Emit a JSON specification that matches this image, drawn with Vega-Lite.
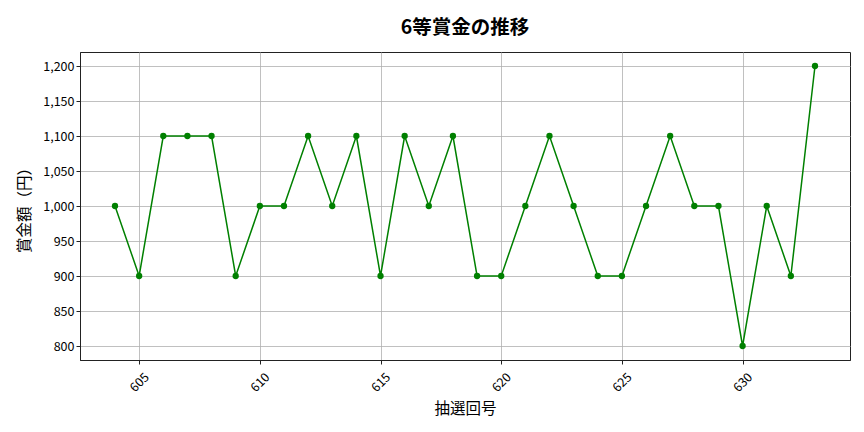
{
  "$schema": "https://vega.github.io/schema/vega-lite/v6.json",
  "autosize": "none",
  "padding": {"left": 80, "top": 52, "right": 14, "bottom": 72},
  "width": 770,
  "height": 308,
  "config": {
    "font": "Noto Sans CJK JP",
    "view": {"stroke": "#222222", "strokeWidth": 1},
    "axis": {
      "gridColor": "#b0b0b0",
      "gridWidth": 0.8,
      "domainColor": "#222222",
      "tickColor": "#222222",
      "tickSize": 4,
      "labelFontSize": 12.5,
      "labelColor": "#000000",
      "titleFontSize": 15.5,
      "titleFontWeight": "normal",
      "titleColor": "#000000"
    }
  },
  "title": {"text": "6等賞金の推移", "fontSize": 19.5, "fontWeight": "bold", "offset": 14, "color": "#000000"},
  "data": {
    "values": [
      {"round": 604, "prize": 1000},
      {"round": 605, "prize": 900},
      {"round": 606, "prize": 1100},
      {"round": 607, "prize": 1100},
      {"round": 608, "prize": 1100},
      {"round": 609, "prize": 900},
      {"round": 610, "prize": 1000},
      {"round": 611, "prize": 1000},
      {"round": 612, "prize": 1100},
      {"round": 613, "prize": 1000},
      {"round": 614, "prize": 1100},
      {"round": 615, "prize": 900},
      {"round": 616, "prize": 1100},
      {"round": 617, "prize": 1000},
      {"round": 618, "prize": 1100},
      {"round": 619, "prize": 900},
      {"round": 620, "prize": 900},
      {"round": 621, "prize": 1000},
      {"round": 622, "prize": 1100},
      {"round": 623, "prize": 1000},
      {"round": 624, "prize": 900},
      {"round": 625, "prize": 900},
      {"round": 626, "prize": 1000},
      {"round": 627, "prize": 1100},
      {"round": 628, "prize": 1000},
      {"round": 629, "prize": 1000},
      {"round": 630, "prize": 800},
      {"round": 631, "prize": 1000},
      {"round": 632, "prize": 900},
      {"round": 633, "prize": 1200}
    ]
  },
  "mark": {"type": "line", "color": "#008000", "strokeWidth": 1.5, "point": {"filled": true, "color": "#008000", "size": 40, "opacity": 1}},
  "encoding": {
    "x": {
      "field": "round", "type": "quantitative", "title": "抽選回号",
      "scale": {"domain": [602.55, 634.45], "nice": false, "zero": false},
      "axis": {"values": [605, 610, 615, 620, 625, 630], "format": "d", "labelAngle": -45, "labelAlign": "center", "labelBaseline": "middle", "labelPadding": 18, "titlePadding": 8}
    },
    "y": {
      "field": "prize", "type": "quantitative", "title": "賞金額（円）",
      "scale": {"domain": [780, 1220], "nice": false, "zero": false},
      "axis": {"values": [800, 850, 900, 950, 1000, 1050, 1100, 1150, 1200], "format": ",.0f", "titlePadding": 10}
    }
  }
}
